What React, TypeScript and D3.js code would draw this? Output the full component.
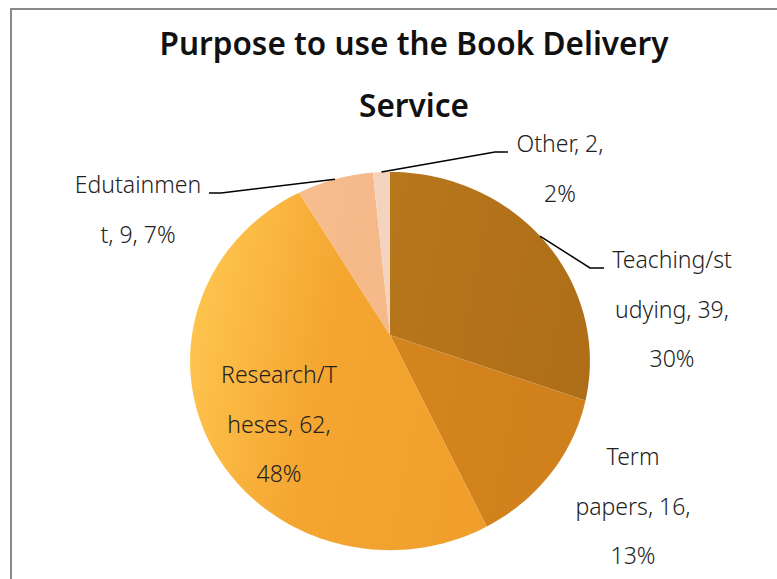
import React from "react";
import * as d3 from "d3";

// data
const categories = ["Teaching/studying", "Term papers", "Research/Theses", "Edutainment", "Other"];
const counts = [39, 16, 62, 9, 2];
// Excel wrapped the data labels mid-word, keep the same breaks
const labelLines = [
  ["Teaching/st", "udying, 39,", "30%"],
  ["Term", "papers, 16,", "13%"],
  ["Research/T", "heses, 62,", "48%"],
  ["Edutainmen", "t, 9, 7%"],
  ["Other, 2,", "2%"],
];
const titleLines = ["Purpose to use the Book Delivery", "Service"];

// slice fills: gradient stops from left to right
const sliceColors = [
  ["#BF7F23", "#B9781D", "#AE6E17"],
  ["#DC8E27", "#D7871F", "#D0801C"],
  ["#FFC650", "#F4A631", "#EE9B29"],
  ["#F9C394", "#F6BA8A", "#F3B381"],
  ["#F7DAC6", "#F5D4BF", "#F2CFB8"],
];

// label layout: first-line baseline centre, optional leader elbow/end
const labelLayout = [
  { x: 672, y: 268, elbow: [590, 268], end: [604, 268] },
  { x: 633, y: 465 },
  { x: 279, y: 383 },
  { x: 138, y: 193, elbow: [221, 193], end: [209, 193] },
  { x: 560, y: 152, elbow: [495, 152], end: [508, 152] },
];

const W = 777;
const H = 579;
const cx = 390;
const cy = 335;
const R = 198; // horizontal radius at the centre row
const tilt = 0.937; // cos of tilt
const persp = 0.1377; // perspective strength

// circle in a tilted plane, seen in perspective
function project(a: number, r: number): [number, number] {
  const u = Math.sin(a) * r;
  const v = -Math.cos(a) * r;
  const depth = 1 - persp * v;
  return [cx + (R * u) / depth, cy + (R * tilt * v) / depth];
}

function slicePath(a0: number, a1: number) {
  const steps = Math.max(4, Math.ceil(((a1 - a0) / (Math.PI * 2)) * 240));
  const pts: [number, number][] = [[cx, cy]];
  for (let i = 0; i <= steps; i++) {
    pts.push(project(a0 + ((a1 - a0) * i) / steps, 1));
  }
  return d3.line()(pts) + "Z";
}

export default function App() {
  const total = d3.sum(counts);
  const arcs = d3.pie<number>().sort(null).value((d) => d)(counts);
  const font = "'Noto Sans', 'Open Sans', sans-serif";

  return (
    <svg
      width={W}
      height={H}
      style={{ position: "absolute", left: 0, top: 0, background: "#fff" }}
    >
      <defs>
        {sliceColors.map((c, i) => (
          <linearGradient
            key={i}
            id={`g${i}`}
            gradientUnits="userSpaceOnUse"
            x1={190}
            y1={290}
            x2={590}
            y2={370}
          >
            <stop offset="0%" stopColor={c[0]} />
            <stop offset="35%" stopColor={c[1]} />
            <stop offset="100%" stopColor={c[2]} />
          </linearGradient>
        ))}
      </defs>

      {/* frame */}
      <line x1={11} y1={9} x2={W} y2={9} stroke="#8a8a8a" strokeWidth={2} />
      <line x1={11} y1={8} x2={11} y2={H} stroke="#8a8a8a" strokeWidth={2} />

      {/* title */}
      {titleLines.map((t, i) => (
        <text
          key={t}
          x={414}
          y={55 + i * 62}
          textAnchor="middle"
          fontFamily={font}
          fontWeight={600}
          fontSize={31.5}
          fill="#111"
        >
          {t}
        </text>
      ))}

      {/* slices */}
      {arcs.map((a, i) => (
        <path
          key={categories[i]}
          d={slicePath(a.startAngle, a.endAngle)}
          fill={`url(#g${i})`}
        />
      ))}

      {/* leader lines */}
      {arcs.map((a, i) => {
        const lay = labelLayout[i];
        if (!lay.elbow) return null;
        const start = project((a.startAngle + a.endAngle) / 2, 1);
        return (
          <polyline
            key={"l" + i}
            points={[start, lay.elbow, lay.end].map((p) => p.join(",")).join(" ")}
            fill="none"
            stroke="#000"
            strokeWidth={1.5}
          />
        );
      })}

      {/* data labels */}
      {labelLines.map((lines, i) => {
        const lay = labelLayout[i];
        const pct = Math.round((counts[i] / total) * 100);
        return (
          <text
            key={"t" + i}
            textAnchor="middle"
            fontFamily={font}
            fontWeight={300}
            fontSize={23}
            fill="#222"
            data-pct={pct}
          >
            {lines.map((ln, j) => (
              <tspan key={j} x={lay.x} y={lay.y + j * 49.5}>
                {ln}
              </tspan>
            ))}
          </text>
        );
      })}
    </svg>
  );
}
